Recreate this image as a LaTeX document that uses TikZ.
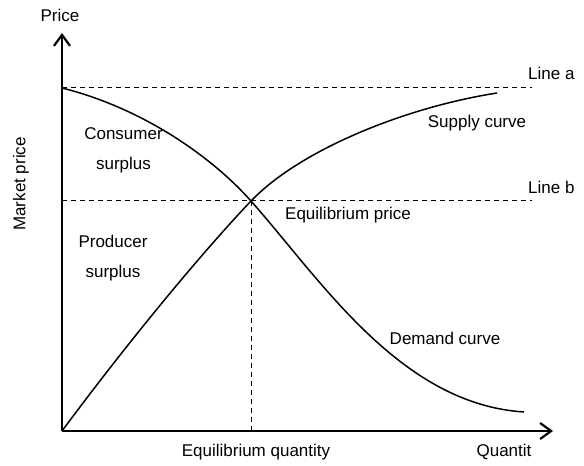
\documentclass[tikz,border=0pt]{standalone}
\usepackage{fontspec}
\setmainfont{Liberation Sans}
\usetikzlibrary{arrows.meta}
\tikzset{
  axis/.style={line width=2.4pt,-{Straight Barb[length=11pt,width=16pt,line width=2.2pt]}},
  curve/.style={line width=1.5pt},
  guide/.style={line width=1pt,dash pattern=on 5pt off 4pt},
  lbl/.style={font=\fontsize{17}{20}\selectfont,inner sep=0pt},
  area/.style={font=\fontsize{17}{30}\selectfont,align=center,inner sep=0pt}
}
\begin{document}
\begin{tikzpicture}[x=1pt,y=1pt]
\useasboundingbox (0,0) rectangle (584,466);
\coordinate (O) at (62,35);
\coordinate (ytip) at (62,433);
\coordinate (xtip) at (553,35);
\coordinate (eq) at (251,265);
\coordinate (qeq) at (251,35);
\coordinate (pa) at (62,378);
\coordinate (pb) at (62,265);
\coordinate (ea) at (532,378);
\coordinate (eb) at (532,265);
\coordinate (send) at (497,373);
\coordinate (dend) at (524,54);

% guide lines
\draw[guide] (pa) -- (ea);
\draw[guide] (pb) -- (eb);
\draw[guide] (eq) -- (qeq);

% supply and demand
\draw[curve] (O) .. controls (122,116) and (196,207) .. (eq)
  .. controls (301,317) and (407,359) .. (send);
\draw[curve] (pa) .. controls (142,358) and (211,310) .. (eq)
  .. controls (321,186) and (400,62) .. (dend);

% axes
\draw[axis] (O) -- (ytip);
\draw[axis] (O) -- (xtip);

\node[lbl] (price) at (60,451) {Price};
\node[lbl,rotate=90] (mkt) at (21,282) {Market price};
\node[lbl] (qty) at (504,14) {Quantit};
\node[lbl] (eqq) at (256,14) {Equilibrium quantity};
\node[lbl,anchor=west] (linea) at (528,393) {Line a};
\node[lbl,anchor=west] (lineb) at (528,279) {Line b};
\node[lbl] (sup) at (477,343) {Supply curve};
\node[lbl] (dem) at (445,128) {Demand curve};
\node[lbl,anchor=west] (eqp) at (285,251) {Equilibrium price};
\node[area] (cs) at (123.5,316) {Consumer\\surplus};
\node[area] (ps) at (113,208) {Producer\\surplus};
\end{tikzpicture}
\end{document}
